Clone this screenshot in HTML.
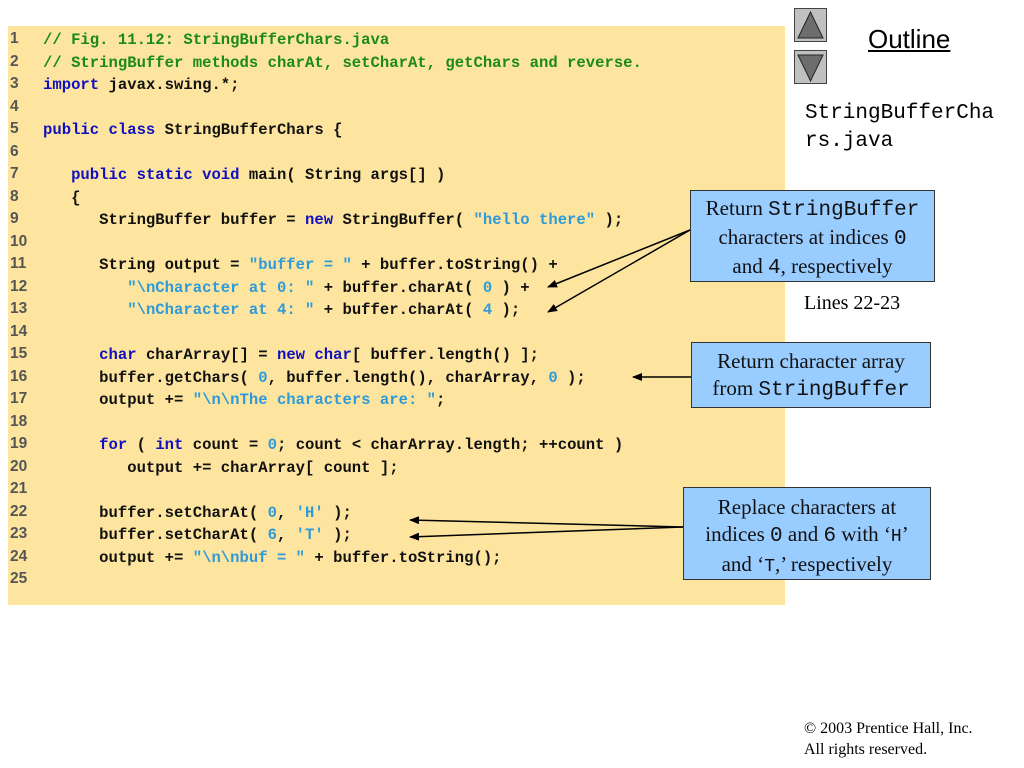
<!DOCTYPE html>
<html><head><meta charset="utf-8"><style>
body{margin:0;width:1024px;height:768px;background:#fff;position:relative;overflow:hidden;font-family:"Liberation Serif",serif}
#code{position:absolute;left:8px;top:26px;width:777px;height:579px;background:#fde5a0}
.l{position:absolute;left:0;height:22px;white-space:pre;font-family:"Liberation Mono",monospace;font-size:15.6px;color:#111;font-weight:bold}
.n{position:absolute;left:2px;top:-1px;font-family:"Liberation Sans",sans-serif;font-size:15.5px;color:#555;font-weight:bold}
.t{position:absolute;left:35px}
.c{color:#1a8a1a}.k{color:#1010c0}.s{color:#2e9ad8}
.box{position:absolute;background:#99ccff;border:1.5px solid #333;text-align:center;font-size:21px;line-height:27px;color:#111;box-sizing:border-box;white-space:nowrap}
.m{font-family:"Liberation Mono",monospace;font-size:21px}
.nav{position:absolute;left:794px;width:33px;height:34px;background:#c0c0c0;border:1px solid #444;box-sizing:border-box}
</style></head><body>
<div id="code">
<div class="l" style="top:5px"><span class="n">1</span><span class="t"><span class="c">// Fig. 11.12: StringBufferChars.java</span></span></div>
<div class="l" style="top:27.5px"><span class="n">2</span><span class="t"><span class="c">// StringBuffer methods charAt, setCharAt, getChars and reverse.</span></span></div>
<div class="l" style="top:50px"><span class="n">3</span><span class="t"><span class="k">import</span> javax.swing.*;</span></div>
<div class="l" style="top:72.5px"><span class="n">4</span></div>
<div class="l" style="top:95px"><span class="n">5</span><span class="t"><span class="k">public class</span> StringBufferChars {</span></div>
<div class="l" style="top:117.5px"><span class="n">6</span></div>
<div class="l" style="top:140px"><span class="n">7</span><span class="t">   <span class="k">public static void</span> main( String args[] )</span></div>
<div class="l" style="top:162.5px"><span class="n">8</span><span class="t">   {</span></div>
<div class="l" style="top:185px"><span class="n">9</span><span class="t">      StringBuffer buffer = <span class="k">new</span> StringBuffer( <span class="s">"hello there"</span> );</span></div>
<div class="l" style="top:207.5px"><span class="n">10</span></div>
<div class="l" style="top:230px"><span class="n">11</span><span class="t">      String output = <span class="s">"buffer = "</span> + buffer.toString() +</span></div>
<div class="l" style="top:252.5px"><span class="n">12</span><span class="t">         <span class="s">"\nCharacter at 0: "</span> + buffer.charAt( <span class="s">0</span> ) +</span></div>
<div class="l" style="top:275px"><span class="n">13</span><span class="t">         <span class="s">"\nCharacter at 4: "</span> + buffer.charAt( <span class="s">4</span> );</span></div>
<div class="l" style="top:297.5px"><span class="n">14</span></div>
<div class="l" style="top:320px"><span class="n">15</span><span class="t">      <span class="k">char</span> charArray[] = <span class="k">new char</span>[ buffer.length() ];</span></div>
<div class="l" style="top:342.5px"><span class="n">16</span><span class="t">      buffer.getChars( <span class="s">0</span>, buffer.length(), charArray, <span class="s">0</span> );</span></div>
<div class="l" style="top:365px"><span class="n">17</span><span class="t">      output += <span class="s">"\n\nThe characters are: "</span>;</span></div>
<div class="l" style="top:387.5px"><span class="n">18</span></div>
<div class="l" style="top:410px"><span class="n">19</span><span class="t">      <span class="k">for</span> ( <span class="k">int</span> count = <span class="s">0</span>; count &lt; charArray.length; ++count )</span></div>
<div class="l" style="top:432.5px"><span class="n">20</span><span class="t">         output += charArray[ count ];</span></div>
<div class="l" style="top:455px"><span class="n">21</span></div>
<div class="l" style="top:477.5px"><span class="n">22</span><span class="t">      buffer.setCharAt( <span class="s">0</span>, <span class="s">'H'</span> );</span></div>
<div class="l" style="top:500px"><span class="n">23</span><span class="t">      buffer.setCharAt( <span class="s">6</span>, <span class="s">'T'</span> );</span></div>
<div class="l" style="top:522.5px"><span class="n">24</span><span class="t">      output += <span class="s">"\n\nbuf = "</span> + buffer.toString();</span></div>
<div class="l" style="top:545px"><span class="n">25</span></div>
</div>
<div class="nav" style="top:8px"></div><div class="nav" style="top:50px"></div>
<svg style="position:absolute;left:0;top:0" width="1024" height="768">
<polygon points="810.5,12 798,38 823,38" fill="#6d6d6d" stroke="#222"/>
<polygon points="798,55 823,55 810.5,81" fill="#6d6d6d" stroke="#222"/>
<defs><marker id="a" markerWidth="10" markerHeight="8" refX="9" refY="4" orient="auto" markerUnits="userSpaceOnUse"><path d="M0,0 L10,4 L0,8 Z" fill="#000"/></marker></defs>
<g stroke="#000" stroke-width="1.5" marker-end="url(#a)">
<line x1="690" y1="230" x2="548" y2="287"/>
<line x1="690" y1="230" x2="548" y2="312"/>
<line x1="691" y1="377" x2="633" y2="377"/>
<line x1="683" y1="527" x2="410" y2="520"/>
<line x1="683" y1="527" x2="410" y2="537"/>
</g></svg>
<div style="position:absolute;left:868px;top:24px;font-family:'Liberation Sans',sans-serif;font-size:26px;text-decoration:underline">Outline</div>
<div style="position:absolute;left:805px;top:100px;font-family:'Liberation Mono',monospace;font-size:21px;line-height:28px">StringBufferCha<br>rs.java</div>
<div class="box" style="left:690px;top:190px;width:245px;height:92px;padding-top:4px">Return <span class="m">StringBuffer</span><br>characters at indices <span class="m">0</span><br>and <span class="m">4</span>, respectively</div>
<div style="position:absolute;left:804px;top:292px;font-size:20px">Lines 22-23</div>
<div class="box" style="left:691px;top:342px;width:240px;height:66px;padding-top:5px">Return character array<br>from <span class="m">StringBuffer</span></div>
<div class="box" style="left:683px;top:487px;width:248px;height:93px;padding-top:6px">Replace characters at<br>indices <span class="m">0</span> and <span class="m">6</span> with ‘<span class="m" style="font-size:18px">H</span>’<br>and ‘<span class="m" style="font-size:18px">T</span>,’ respectively</div>
<div style="position:absolute;left:804px;top:718px;font-size:16px;line-height:21px">© 2003 Prentice Hall, Inc.<br>All rights reserved.</div>
</body></html>
